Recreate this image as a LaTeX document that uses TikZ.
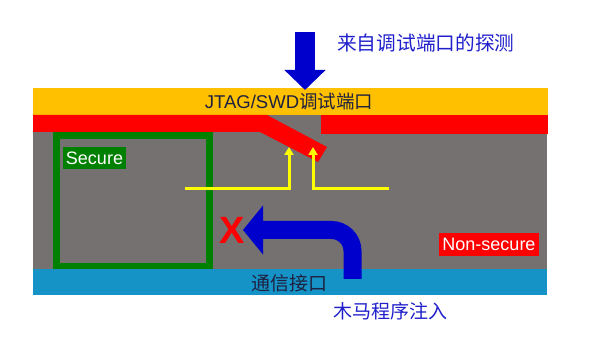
\documentclass[tikz,border=0pt]{standalone}
\usepackage{fontspec}
\setmainfont{Liberation Sans}
\newfontfamily\cjk{Noto Sans CJK SC}
\usetikzlibrary{arrows.meta}
\definecolor{orangebar}{HTML}{FFC000}
\definecolor{graybg}{HTML}{767171}
\definecolor{blueband}{HTML}{1592C6}
\definecolor{redc}{HTML}{FF0000}
\definecolor{greenc}{HTML}{008000}
\definecolor{yellowc}{HTML}{FFFF00}
\definecolor{arrowblue}{HTML}{0000CC}
\definecolor{textblue}{HTML}{1F1FCC}
\definecolor{darktext}{HTML}{1E2140}
\tikzset{
  labelbox/.style={inner sep=0pt, text=white, font=\fontsize{18}{20}\selectfont, align=center},
  bigtext/.style={inner sep=0pt, font=\fontsize{19}{21}\selectfont\cjk},
  yarrow/.style={draw=yellowc, line width=3pt, -{Triangle[width=9pt,length=8pt]}},
  blockarrow/.style={draw=arrowblue, line width=#1},
}
\begin{document}
\begin{tikzpicture}[x=1pt,y=-1pt]
\useasboundingbox (0,0) rectangle (592,339);
% bands
\fill[orangebar] (33,88) rectangle (548,115);
\fill[graybg] (33,115) rectangle (547,269);
% green secure region
\draw[greenc, line width=7pt] (56.5,135.5) rectangle (209.5,266.5);
\fill[blueband] (33,269) rectangle (547,295);
% red barriers
\fill[redc] (33,115) -- (267,115) -- (327,147) -- (318,162) -- (260,132) -- (33,132) -- cycle;
\fill[redc] (321,115) rectangle (548,134);
% yellow paths
\coordinate (yl) at (185,189);
\coordinate (ya) at (289,147);
\coordinate (yr) at (389,189);
\coordinate (yb) at (313,147);
\draw[yarrow] (yl) -| (ya);
\draw[yarrow] (yr) -| (yb);
% top blue arrow
\coordinate (probe) at (305,32);
\coordinate (port) at (305,90);
\draw[blockarrow=20pt, -{Triangle[width=40pt,length=20pt]}] (probe) -- (port);
% curved blue arrow
\coordinate (trojan) at (352.5,279);
\coordinate (xhit) at (243,230);
\draw[blockarrow=18pt, rounded corners=21pt, -{Triangle[width=48pt,length=20pt]}] (trojan) |- (xhit);
% texts
\node[bigtext, text=textblue, anchor=west, font=\fontsize{19.7}{21}\selectfont\cjk] (probetxt) at (337,43) {来自调试端口的探测};
\node[inner sep=0pt, text=darktext, font=\fontsize{18.5}{20}\selectfont] (jtag) at (289,102) {JTAG/SWD{\cjk 调试端口}};
\node[bigtext, text=darktext] (comm) at (289.5,283) {通信接口};
\node[bigtext, text=textblue] (trojantxt) at (390.5,311) {木马程序注入};
\node[labelbox, fill=greenc, minimum width=63pt, minimum height=22pt] (secure) at (94.5,158) {Secure};
\node[labelbox, fill=redc, minimum width=100pt, minimum height=23pt] (nonsecure) at (489,244.5) {Non-secure};
\node[inner sep=0pt, text=redc, font=\fontsize{38}{40}\selectfont\bfseries] (x) at (232.5,230) {X};
\end{tikzpicture}
\end{document}
